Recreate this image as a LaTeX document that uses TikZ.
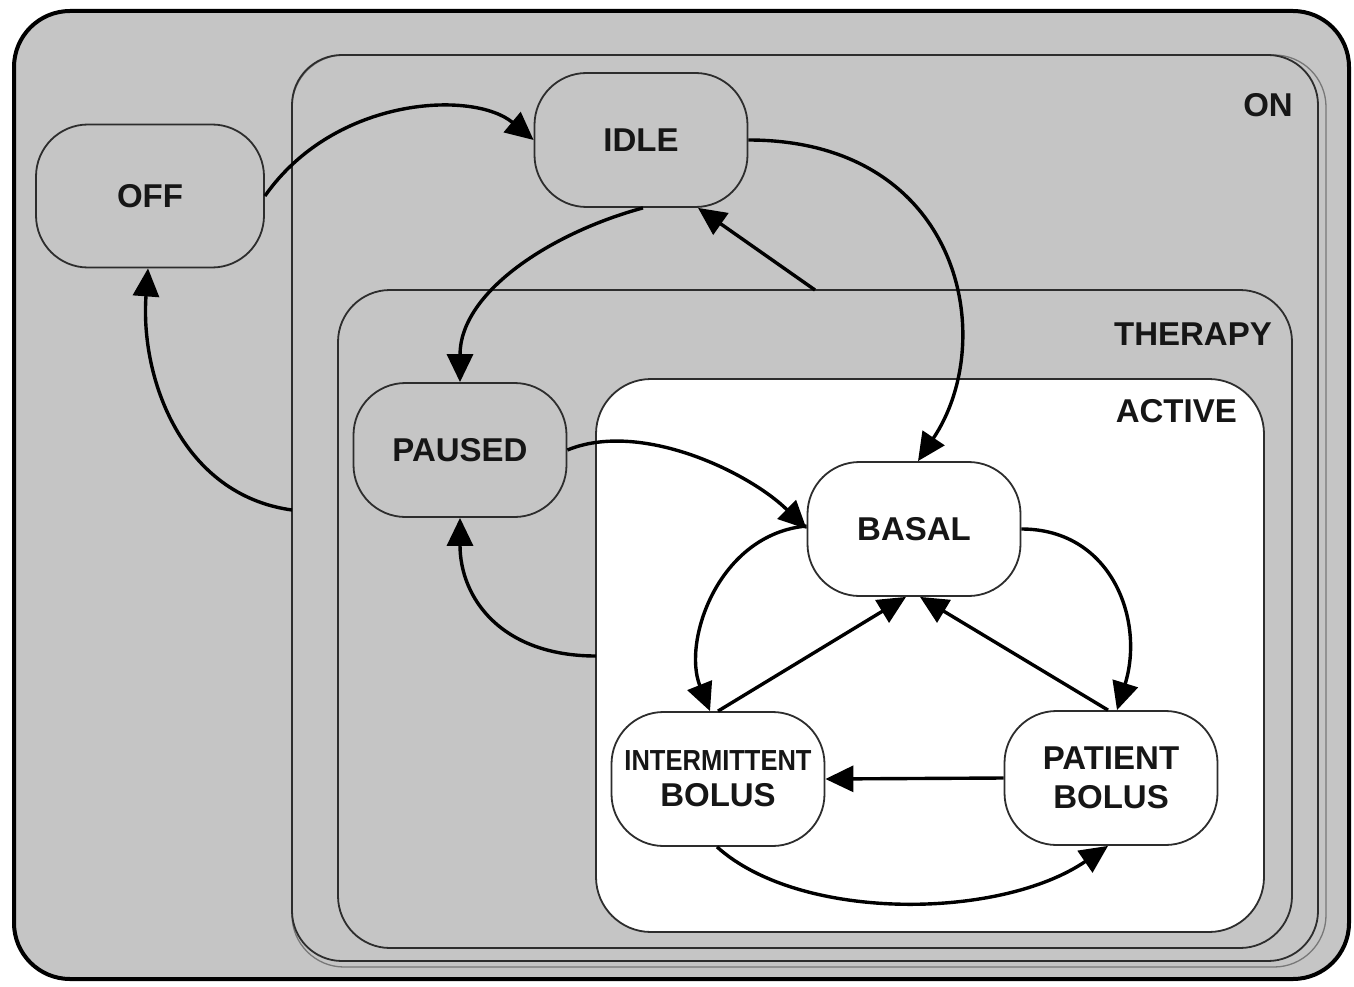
\documentclass[tikz,border=0pt]{standalone}
\usepackage{fontspec}
\usepackage{graphicx}
\setmainfont{Liberation Sans}
\usetikzlibrary{arrows.meta}
\definecolor{panel}{RGB}{197,197,197}
\definecolor{edge}{RGB}{45,45,45}
\definecolor{shade}{RGB}{120,120,120}
\definecolor{ink}{RGB}{22,22,22}

\begin{document}
\begin{tikzpicture}[x=1pt,y=-1pt,
  state/.style={draw=edge, line width=1.8pt, rounded corners=52pt,
    minimum width=213pt, minimum height=134pt, inner sep=0pt, align=center,
    font=\fontsize{33}{39}\selectfont\bfseries, text=ink},
  wstate/.style={state, fill=white},
  region/.style={draw=edge, line width=1.8pt},
  tag/.style={anchor=base east, inner sep=0pt,
    font=\fontsize{33}{39}\selectfont\bfseries, text=ink},
  flow/.style={draw=black, line width=3.4pt, -{Triangle[length=28pt,width=26pt]}},
  ]
\useasboundingbox (0,0) rectangle (1354,987);
\fill[white] (0,0) rectangle (1354,987);

% nested state regions
\draw[line width=4pt, draw=black, fill=panel, rounded corners=56pt] (14,11) rectangle (1349,979);
\draw[draw=shade, line width=1.3pt, rounded corners=52pt] (292,55) rectangle (1326,967);
\draw[region, rounded corners=50pt] (292,55) rectangle (1318,961);
\draw[region, rounded corners=52pt] (338,290) rectangle (1292,948);
\draw[region, fill=white, rounded corners=55pt] (596,379) rectangle (1264,932);

\node[tag] (onlbl) at (1293,117) {ON};
\node[tag] (therapylbl) at (1272,345) {THERAPY};
\node[tag] (activelbl) at (1237,422) {ACTIVE};

% states
\node[state, minimum width=228pt, minimum height=143pt] (off) at (150,196) {OFF};
\node[state] (idle) at (641,140) {IDLE};
\node[state] (paused) at (460,450) {PAUSED};
\node[wstate] (basal) at (914,529) {BASAL};
\node[wstate, font=\fontsize{33}{39}\selectfont\bfseries] (patient) at (1111,778) {PATIENT\\BOLUS};
\node[wstate, font=\fontsize{33}{36}\selectfont\bfseries] (interm) at (718,779)
  {\scalebox{0.88}[1]{\fontsize{29}{36}\selectfont INTERMITTENT}\\BOLUS};

% free ends on region borders
\coordinate (onL) at (292,510);
\coordinate (tpTop) at (815,290);
\coordinate (actL) at (596,656);

% transitions
\draw[flow] (off.east) .. controls +(70,-100) and +(-60,-50) .. (idle.west);
\draw[flow] ([xshift=2pt]idle.south) .. controls +(-92,25) and +(0,-90) .. (paused.north);
\draw[flow] (tpTop) -- ([xshift=57pt]idle.south);
\draw[flow] (idle.east) .. controls +(212,0) and +(82,-122) .. ([xshift=4pt]basal.north);
\draw[flow] (paused.east) .. controls +(73,-30) and +(-58,-57) .. (basal.west);
\draw[flow] (actL) .. controls +(-95,0) and +(0,80) .. (paused.south);
\draw[flow] (onL) .. controls +(-110,-15) and +(-8,110) .. ([xshift=-2pt]off.south);
\draw[flow] (basal.east) .. controls +(90,0) and +(28,-90) .. ([xshift=6pt]patient.north);
\draw[flow] ([xshift=-3pt]patient.north) -- ([xshift=6pt]basal.south);
\draw[flow] (interm.north) -- ([xshift=-8pt]basal.south);
\draw[flow] ([yshift=3pt]basal.west) .. controls +(-88,8) and +(-28,-70) .. ([xshift=-8pt]interm.north);
\draw[flow] (patient.west) -- (interm.east);
\draw[flow] ([xshift=-1pt]interm.south) .. controls +(83,75) and +(-108,74) .. ([xshift=-3pt]patient.south);
\end{tikzpicture}
\end{document}
